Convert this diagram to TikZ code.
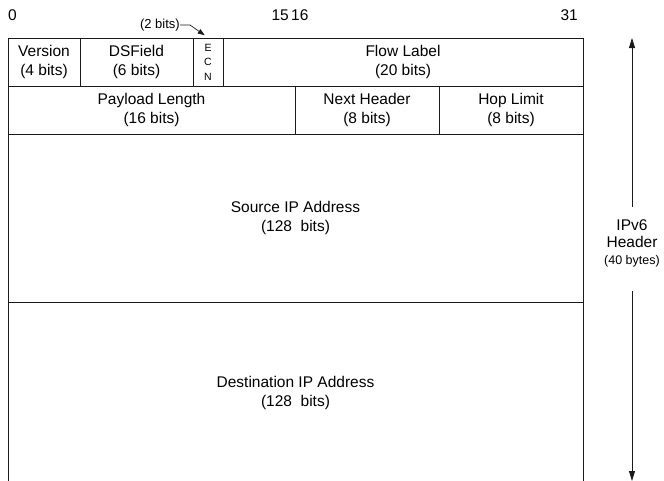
\documentclass[tikz,border=0pt]{standalone}
\usepackage{fontspec}
\setmainfont{Liberation Sans}
\usepackage{tikz}
\usetikzlibrary{arrows.meta,positioning}
\definecolor{frame}{HTML}{1A1A1A}

\tikzset{
  field/.style={draw=frame,line width=0.9pt,inner sep=0pt,align=center,
    font=\fontsize{15.5}{19}\selectfont},
  bitnum/.style={font=\fontsize{15.5}{18}\selectfont,inner sep=0pt},
  note/.style={font=\fontsize{13}{16}\selectfont,inner sep=0pt},
}

\begin{document}
\begin{tikzpicture}[x=1pt,y=-1pt]
  \useasboundingbox (0,0) rectangle (664,480);

  % Bit numbers
  \node[bitnum,anchor=west] (b0) at (8,15) {0};
  \node[bitnum,anchor=east] (b15) at (289,15) {15};
  \node[bitnum,anchor=west] (b16) at (291,15) {16};
  \node[bitnum,anchor=east] (b31) at (578,15) {31};

  % First word
  \node[field,minimum width=72,minimum height=48] (version) at (44,62) {Version\\(4 bits)};
  \node[field,minimum width=113,minimum height=48] (dsfield) at (136.5,62) {DSField\\(6 bits)};
  \node[field,minimum width=30,minimum height=48,font=\fontsize{10.5}{14.5}\selectfont] (ecn) at (208,62) {E\\C\\N};
  \node[field,minimum width=360,minimum height=48] (flow) at (403,62) {Flow Label\\(20 bits)};

  % Second word
  \node[field,minimum width=287,minimum height=48] (payload) at (151.5,110) {Payload Length\\(16 bits)};
  \node[field,minimum width=144,minimum height=48] (nexthdr) at (367,110) {Next Header\\(8 bits)};
  \node[field,minimum width=144,minimum height=48] (hoplimit) at (511,110) {Hop Limit\\(8 bits)};

  % Addresses
  \node[field,minimum width=575,minimum height=168] (source) at (295.5,218) {Source IP Address\\(128\ \ bits)};
  \node[field,minimum width=575,minimum height=182] (dest) at (295.5,393) {Destination IP Address\\(128\ \ bits)};

  % ECN width
  \node[note,anchor=east] (twobits) at (180,25) {(2 bits)};
  \draw[frame,line width=0.7pt,-{Triangle[length=7pt,width=5pt]},shorten >=4pt]
    (twobits.east) -- ++(10,0) -- (ecn.north);

  % Header size
  \node[align=center,inner sep=0pt,font=\fontsize{15.5}{17}\selectfont] (hdr) at (632,243)
    {IPv6\\Header\\{\fontsize{12.5}{15}\selectfont(40 bytes)}};
  \coordinate (hdrtop) at (632,38);
  \coordinate (hdrbot) at (632,481);
  \coordinate (gapa) at (632,207);
  \coordinate (gapb) at (632,291);
  \draw[frame,line width=0.8pt,-{Triangle[length=10pt,width=6pt]}] (gapa) -- (hdrtop);
  \draw[frame,line width=0.8pt,-{Triangle[length=10pt,width=6pt]}] (gapb) -- (hdrbot);
\end{tikzpicture}
\end{document}
